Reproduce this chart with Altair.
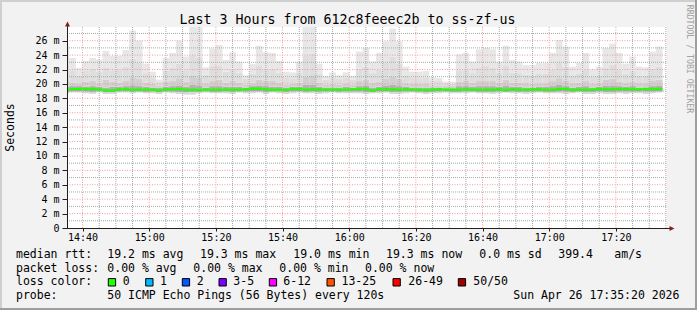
import altair as alt
import pandas as pd

# ---------------- data ----------------
title_text = "Last 3 Hours from 612c8feeec2b to ss-zf-us"
y_title = "Seconds"
watermark = "RRDTOOL / TOBI OETIKER"

start_min = 35 + 20 / 60          # 14:35:20, minutes after 14:00
end_min = start_min + 180         # 17:35:20
step_min = 2                      # 120 s probe interval
first_end = 36                    # first sample ends at 14:36

# ping RTT (ms) per 2-minute sample: max, smoke levels, median, low levels
rtt_max = [25.2, 23.6, 22.2, 23.2, 23.6, 23.4, 24.6, 23.9, 23.9, 24.7,
           27.4, 26.0, 22.8, 21.7, 20.6, 23.6, 24.3, 26.0, 23.8, 27.9,
           27.9, 22.3, 24.9, 25.4, 23.3, 24.4, 23.1, 21.2, 22.8, 25.3,
           24.4, 24.3, 23.2, 21.7, 21.6, 23.1, 27.9, 27.9, 22.8, 21.1,
           21.6, 21.2, 21.6, 21.1, 24.5, 25.0, 23.1, 24.3, 25.9, 27.7,
           25.9, 22.4, 21.7, 21.7, 21.8, 20.9, 20.8, 20.3, 20.3, 24.1,
           24.3, 23.1, 24.8, 25.0, 24.8, 23.1, 25.3, 23.3, 23.1, 22.6,
           22.6, 22.9, 22.9, 24.3, 26.1, 25.2, 22.4, 22.9, 24.3, 22.0,
           22.4, 25.0, 25.6, 24.3, 22.8, 23.8, 22.4, 22.3, 24.5, 25.2]
rtt_hi2 = [22.6, 21.9, 21.2, 21.8, 22.1, 21.7, 22.3, 21.9, 22.0, 22.4,
           23.5, 23.0, 21.5, 20.9, 20.3, 21.8, 22.2, 22.8, 21.9, 24.0,
           23.6, 21.3, 22.5, 22.6, 21.7, 22.1, 21.6, 20.7, 21.4, 22.6,
           22.0, 22.1, 21.6, 20.9, 20.8, 21.5, 23.9, 24.2, 21.4, 20.6,
           20.9, 20.7, 20.9, 20.6, 22.1, 22.4, 21.5, 22.0, 22.9, 23.8,
           22.8, 21.2, 20.9, 20.8, 20.9, 20.4, 20.4, 20.1, 20.0, 21.9,
           22.0, 21.5, 22.3, 22.5, 22.2, 21.5, 22.6, 21.6, 21.5, 21.3,
           21.2, 21.4, 21.4, 22.0, 22.9, 22.4, 21.2, 21.4, 22.0, 21.0,
           21.2, 22.3, 22.7, 22.0, 21.4, 21.8, 21.1, 21.1, 22.1, 22.4]
rtt_hi3 = [20.4, 20.2, 20.0, 20.3, 20.5, 20.1, 20.6, 20.3, 20.2, 20.5,
           20.9, 20.7, 20.2, 20.0, 19.8, 20.3, 20.5, 20.8, 20.3, 21.1,
           20.9, 20.1, 20.5, 20.6, 20.2, 20.4, 20.2, 19.9, 20.1, 20.6,
           20.4, 20.4, 20.2, 19.9, 20.0, 20.2, 21.0, 21.2, 20.2, 19.9,
           20.0, 19.9, 20.0, 19.9, 20.4, 20.6, 20.2, 20.3, 20.7, 21.0,
           20.7, 20.1, 20.0, 20.0, 20.0, 19.8, 19.8, 19.7, 19.7, 20.3,
           20.4, 20.2, 20.5, 20.5, 20.4, 20.2, 20.6, 20.2, 20.2, 20.1,
           20.0, 20.1, 20.1, 20.4, 20.8, 20.5, 20.1, 20.2, 20.4, 20.0,
           20.1, 20.6, 20.7, 20.3, 20.1, 20.3, 20.1, 20.1, 20.4, 20.6]
rtt_hi4 = [19.6, 19.7, 19.7, 19.6, 19.7, 19.6, 19.5, 19.6, 19.6, 19.7,
           19.8, 19.7, 19.6, 19.5, 19.5, 19.6, 19.7, 19.8, 19.6, 19.9,
           19.8, 19.5, 19.7, 19.7, 19.6, 19.6, 19.6, 19.5, 19.7, 19.8,
           19.7, 19.6, 19.6, 19.5, 19.6, 19.6, 19.9, 19.9, 19.6, 19.5,
           19.5, 19.5, 19.6, 19.5, 19.7, 19.8, 19.5, 19.6, 19.8, 19.9,
           19.7, 19.6, 19.5, 19.5, 19.5, 19.5, 19.5, 19.4, 19.4, 19.7,
           19.7, 19.6, 19.7, 19.7, 19.7, 19.6, 19.8, 19.6, 19.6, 19.5,
           19.5, 19.6, 19.6, 19.7, 19.9, 19.7, 19.5, 19.6, 19.7, 19.5,
           19.6, 19.8, 19.8, 19.7, 19.6, 19.7, 19.5, 19.5, 19.7, 19.8]
rtt_median = [19.1, 19.3, 19.3, 19.3, 19.3, 19.25, 19.1, 19.1, 19.25, 19.25,
              19.2, 19.2, 19.2, 19.2, 19.1, 19.25, 19.25, 19.3, 19.2, 19.2,
              19.15, 19.2, 19.2, 19.2, 19.2, 19.2, 19.2, 19.25, 19.35, 19.35,
              19.25, 19.2, 19.2, 19.15, 19.3, 19.3, 19.2, 19.25, 19.25, 19.2,
              19.2, 19.2, 19.2, 19.25, 19.3, 19.3, 19.1, 19.25, 19.25, 19.25,
              19.2, 19.25, 19.2, 19.2, 19.15, 19.2, 19.25, 19.2, 19.2, 19.2,
              19.25, 19.2, 19.2, 19.2, 19.2, 19.25, 19.15, 19.25, 19.2, 19.2,
              19.25, 19.25, 19.2, 19.2, 19.3, 19.3, 19.2, 19.2, 19.2, 19.2,
              19.3, 19.25, 19.25, 19.3, 19.3, 19.25, 19.25, 19.3, 19.3, 19.3]
rtt_lo2 = [18.9, 19.0, 19.0, 18.95, 18.9, 19.0, 18.85, 18.85, 18.95, 19.0,
           18.9, 18.95, 18.9, 18.95, 18.85, 18.95, 18.95, 18.9, 18.85, 18.9,
           18.9, 18.95, 18.9, 18.9, 18.95, 18.9, 18.95, 18.95, 19.0, 19.0,
           18.9, 18.95, 18.95, 18.9, 19.0, 19.0, 18.9, 18.95, 18.9, 18.95,
           18.95, 18.9, 18.95, 18.95, 18.95, 18.9, 18.85, 18.95, 18.95, 18.9,
           18.9, 18.95, 18.95, 18.9, 18.85, 18.9, 18.95, 18.95, 18.9, 18.9,
           18.95, 18.95, 18.9, 18.9, 18.9, 18.95, 18.9, 18.95, 18.9, 18.9,
           18.95, 18.95, 18.9, 18.9, 18.95, 18.95, 18.9, 18.95, 18.9, 18.9,
           19.0, 18.9, 18.9, 18.95, 18.95, 18.95, 18.95, 18.95, 18.95, 19.0]
rtt_lo = [18.7, 18.8, 18.8, 18.7, 18.6, 18.8, 18.6, 18.6, 18.8, 18.8,
          18.7, 18.8, 18.7, 18.7, 18.6, 18.8, 18.7, 18.6, 18.5, 18.5,
          18.7, 18.8, 18.7, 18.7, 18.7, 18.6, 18.8, 18.7, 18.7, 18.8,
          18.6, 18.8, 18.7, 18.6, 18.7, 18.8, 18.7, 18.7, 18.6, 18.7,
          18.8, 18.7, 18.7, 18.7, 18.7, 18.6, 18.7, 18.7, 18.8, 18.6,
          18.6, 18.7, 18.8, 18.7, 18.6, 18.7, 18.7, 18.8, 18.7, 18.7,
          18.7, 18.8, 18.7, 18.7, 18.6, 18.7, 18.8, 18.7, 18.7, 18.6,
          18.7, 18.8, 18.7, 18.7, 18.7, 18.6, 18.7, 18.8, 18.6, 18.6,
          18.7, 18.6, 18.6, 18.7, 18.6, 18.7, 18.7, 18.6, 18.7, 18.8]

x_major = [40, 60, 80, 100, 120, 140, 160, 180, 200]          # 14:40 ... 17:20
x_minor = [45, 50, 55, 65, 70, 75, 85, 90, 95, 105, 110, 115, 125, 130, 135,
           145, 150, 155, 165, 170, 175, 185, 190, 195, 205, 210, 215]
y_major = [2, 4, 6, 8, 10, 12, 14, 16, 18, 20, 22, 24, 26]
y_minor = [1, 3, 5, 7, 9, 11, 13, 15, 17, 19, 21, 23, 25, 27]
y_labels = [0] + y_major

row1 = ["median rtt:", "19.2 ms avg", "19.3 ms max", "19.0 ms min",
        "19.3 ms now", "0.0 ms sd", "399.4", "am/s"]
row2 = ["packet loss:", "0.00 % avg", "0.00 % max", "0.00 % min", "0.00 % now"]
row3_head = "loss color:"
loss_labels = ["0", "1", "2", "3-5", "6-12", "13-25", "26-49", "50/50"]
loss_colors = ["#26ff00", "#00b8ff", "#0059ff", "#7e00ff", "#ff00ff",
               "#ff5500", "#ff0000", "#a10000"]
row4 = ["probe:", "50 ICMP Echo Pings (56 Bytes) every 120s",
        "Sun Apr 26 17:35:20 2026"]

# ---------------- layout / style ----------------
W, H = 600, 201
OX, OY = 67, 27            # plot origin in page pixels
MONO = "DejaVu Sans Mono"
Y_MAX = 27.9
MEDIAN_HALF = 0.16
smoke_colors = ["#d8d8d8", "#a4a4a4", "#b2b2b2", "#d0d0d0", "#dedede", "#e7e7e7"]
row1_x = [16, 107.3, 200, 293.3, 386, 479.3, 558.3, 614.3]
row2_x = [16, 107.3, 193.3, 279.3, 365]
sq_x = [108.3, 145.7, 182.3, 219, 269.3, 327, 393, 458.3]
lab_x = [122.7, 160, 196.7, 233.3, 283.3, 341.5, 408.3, 473.3]
row4_x = [16, 107.3, 513.3]
rows_y = [258, 271.7, 285.4, 299]

xs = alt.Scale(domain=[start_min, end_min], nice=False, zero=False)
ys = alt.Scale(domain=[0, Y_MAX], nice=False, zero=False)

x_label_expr = ("(14 + floor(datum.value / 60)) + ':' + "
                "(datum.value % 60 < 10 ? '0' : '') + (datum.value % 60)")
y_label_expr = "datum.value == 0 ? '0\u00a0\u00a0' : datum.value + ' m'"

X_AXIS = alt.Axis(values=x_major, labelExpr=x_label_expr, grid=False,
                  domain=False, ticks=True, tickSize=3, tickColor="#1f1f1f",
                  labelPadding=1, labelFont=MONO, labelFontSize=10,
                  labelColor="#000000", labelFlush=False, labelOverlap=False,
                  title=None)
Y_AXIS = alt.Axis(values=y_labels, labelExpr=y_label_expr, grid=False,
                  domain=False, ticks=True, tickSize=5, tickColor="#1f1f1f",
                  labelPadding=3, labelFont=MONO, labelFontSize=10,
                  labelColor="#000000", labelFlush=False, labelOverlap=False,
                  title=None)


def X(field):
    return alt.X(field, scale=xs, axis=X_AXIS, title=None)


def Y(field):
    return alt.Y(field, scale=ys, axis=Y_AXIS, title=None)


# ---------------- smoke table ----------------
levels = [rtt_lo, rtt_lo2, rtt_median, rtt_hi4, rtt_hi3, rtt_hi2, rtt_max]
recs = []
for k in range(len(rtt_max)):
    x1 = first_end + step_min * k
    for b in range(6):
        recs.append({"x0": x1 - step_min, "x1": x1, "y0": levels[b][k],
                     "y1": levels[b + 1][k], "band": b})
smoke_df = pd.DataFrame(recs)

med_df = pd.DataFrame({
    "x1": [first_end + step_min * k for k in range(len(rtt_median))],
    "m": rtt_median,
})
med_df["x0"] = med_df["x1"] - step_min
med_df["lo"] = med_df["m"] - MEDIAN_HALF
med_df["hi"] = med_df["m"] + MEDIAN_HALF

smoke = alt.Chart(smoke_df).mark_rect(clip=True).encode(
    x=X("x0:Q"), x2="x1:Q",
    y=Y("y0:Q"), y2="y1:Q",
    color=alt.Color("band:O", scale=alt.Scale(domain=list(range(6)),
                                               range=smoke_colors), legend=None),
)


def vgrid(vals, color, dash):
    return alt.Chart(pd.DataFrame({"v": vals})).mark_rule(
        stroke=color, strokeDash=dash, strokeWidth=1, opacity=1).encode(
        x=X("v:Q"), y=alt.value(0), y2=alt.value(H))


def hgrid(vals, color, dash):
    return alt.Chart(pd.DataFrame({"v": vals})).mark_rule(
        stroke=color, strokeDash=dash, strokeWidth=1, opacity=1).encode(
        y=Y("v:Q"), x=alt.value(0), x2=alt.value(W))


minor_col = "#a8a8a8"
major_col = "#f29a9a"

median = alt.Chart(med_df).mark_rect(clip=True, color="#26ff00").encode(
    x=X("x0:Q"), x2="x1:Q", y=Y("lo:Q"), y2="hi:Q")

one = pd.DataFrame({"a": [0]})
AXC = "#1f1f1f"
ARC = "#801f1f"
yaxis_line = alt.Chart(one).mark_rule(color=AXC, strokeWidth=1).encode(
    x=alt.value(0.5), y=alt.value(H), y2=alt.value(-1))
xaxis_line = alt.Chart(one).mark_rule(color=AXC, strokeWidth=1).encode(
    x=alt.value(0), x2=alt.value(603), y=alt.value(H + 0.5))
y_arrow = alt.Chart(one).mark_point(shape="M-1,1L0,-1L1,1Z", filled=True,
                                    size=25, color=ARC, opacity=1).encode(
    x=alt.value(0.5), y=alt.value(-3.1))
x_arrow = alt.Chart(one).mark_point(shape="M-1,-1L1,0L-1,1Z", filled=True,
                                    size=25, color=ARC, opacity=1).encode(
    x=alt.value(605), y=alt.value(H + 0.5))


def txt(s, ax, ay, size=11.5, color="#000000", angle=0, align="left",
        baseline="alphabetic"):
    return alt.Chart(pd.DataFrame({"t": [s]})).mark_text(
        font=MONO, fontSize=size, color=color, angle=angle, align=align,
        baseline=baseline).encode(
        x=alt.value(ax - OX), y=alt.value(ay - OY), text="t:N")


def square(color, ax, ay0, ay1):
    return alt.Chart(pd.DataFrame({"c": [color]})).mark_rect(
        stroke="#000000", strokeWidth=1).encode(
        x=alt.value(ax - OX), x2=alt.value(ax - OX + 7.3),
        y=alt.value(ay0 - OY), y2=alt.value(ay1 - OY),
        color=alt.Color("c:N", scale=None))


texts = [
    txt(title_text, 347.5, 24.3, size=13.3, align="center"),
    txt(y_title, 10.8, 127.5, size=11.5, angle=270, align="center",
        baseline="middle"),
    txt(watermark, 688.5, 59, size=8.2, color="#a0a0a0", angle=90,
        align="center", baseline="middle"),
]
for s, x in zip(row1, row1_x):
    texts.append(txt(s, x, rows_y[0]))
for s, x in zip(row2, row2_x):
    texts.append(txt(s, x, rows_y[1]))
texts.append(txt(row3_head, 16, rows_y[2]))
for s, c, sx, lx in zip(loss_labels, loss_colors, sq_x, lab_x):
    texts.append(square(c, sx, 278.6, 286))
    texts.append(txt(s, lx, rows_y[2]))
for s, x in zip(row4, row4_x):
    texts.append(txt(s, x, rows_y[3]))


def frame(x0, x1, y0, y1, color):
    return alt.Chart(one).mark_rule(color=color, strokeWidth=2).encode(
        x=alt.value(x0 - OX), x2=alt.value(x1 - OX),
        y=alt.value(y0 - OY), y2=alt.value(y1 - OY))


frames = [
    frame(0, 697, 1, 1, "#cfcfcf"),
    frame(1, 1, 0, 310, "#cfcfcf"),
    frame(0, 697, 309, 309, "#9e9e9e"),
    frame(696, 696, 0, 310, "#9e9e9e"),
]

chart = alt.layer(
    smoke,
    vgrid(x_minor, minor_col, [1, 1]), hgrid(y_minor, minor_col, [1, 1]),
    vgrid(x_major, major_col, [1, 1.5]), hgrid(y_major, major_col, [1, 1.5]),
    median,
    yaxis_line, xaxis_line, y_arrow, x_arrow,
    *texts, *frames,
).properties(
    width=W, height=H,
    autosize=alt.AutoSizeParams(type="none"),
    padding={"left": OX, "top": OY, "right": 697 - OX - W, "bottom": 310 - OY - H},
    background="#f2f2f2",
).configure_view(fill="white", strokeWidth=0)

chart.save("out.html", embed_options={"renderer": "svg", "actions": False})
